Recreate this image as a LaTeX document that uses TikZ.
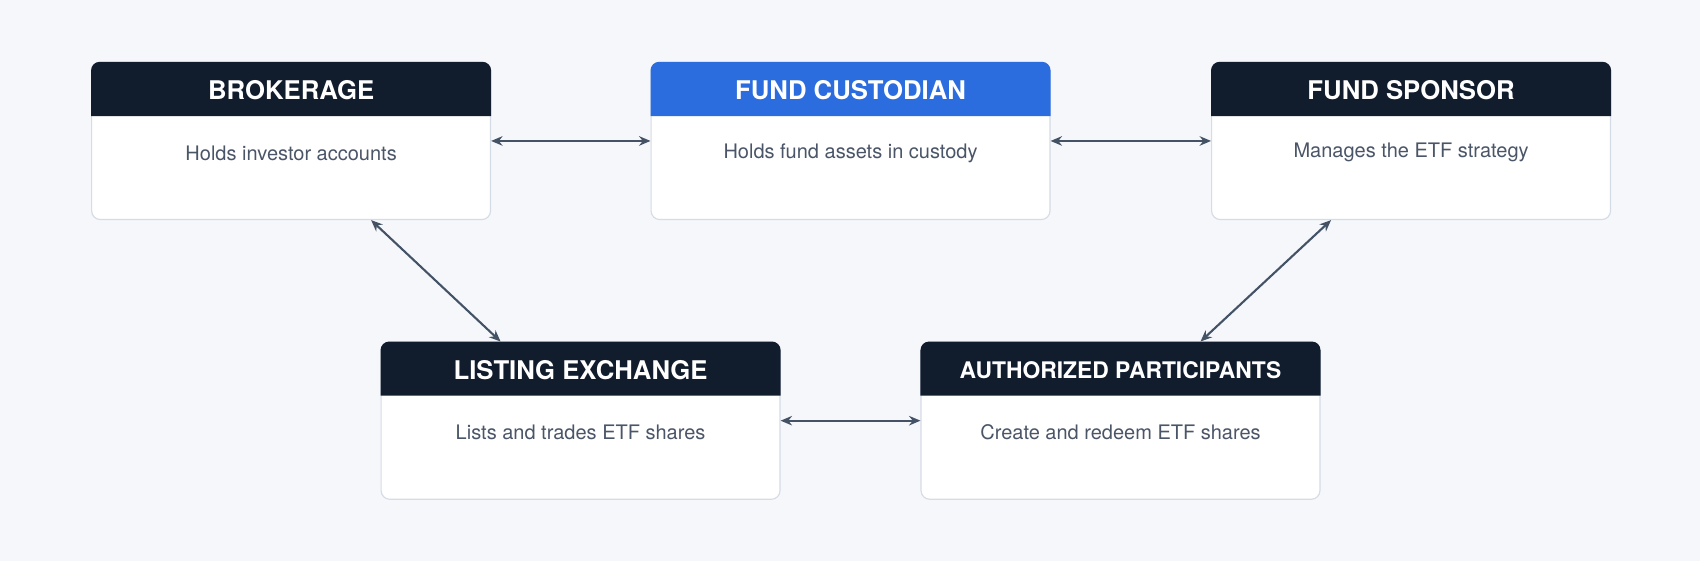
\documentclass[tikz,border=0pt]{standalone}
\usepackage{fontspec}
\setmainfont{TeX Gyre Heros}
\usetikzlibrary{arrows.meta,calc}
\definecolor{bgc}{HTML}{F5F7FB}
\definecolor{navy}{HTML}{111C2D}
\definecolor{blu}{HTML}{2B6CDE}
\definecolor{edge}{HTML}{D5DCE6}
\definecolor{slate}{HTML}{445266}
\definecolor{txt}{HTML}{4A5568}
\tikzset{
  card/.style={draw=edge, line width=0.6pt, fill=white, rounded corners=0.16cm,
    minimum width=7.36cm, minimum height=2.9cm, anchor=north west, inner sep=0pt},
  head/.style={text=white, font=\bfseries\fontsize{13.5}{16}\selectfont},
  body/.style={text=txt, font=\fontsize{10.5}{13}\selectfont},
  link/.style={draw=slate, line width=1.1pt, {Stealth[length=6pt,width=5pt]}-{Stealth[length=6pt,width=5pt]}}
}
\newcommand{\card}[6]{%
  \node[card] (#1) at (#2,#3) {};
  \fill[#6, rounded corners=0.16cm] ($(#1.north west)+(0,50)$) -- (#1.north west) -- (#1.north east) [sharp corners] -- ($(#1.north east)+(0,50)$) -- cycle;
  \node[head] (#1t) at ($(#1.north)+(0,26)$) {#4};
  \node[body] (#1d) at ($(#1.north)+(0,84)$) {#5};
}
\begin{document}
\begin{tikzpicture}[x=0.02cm,y=-0.02cm]
\fill[bgc] (0,0) rectangle (1568,517);
\useasboundingbox (0,0) rectangle (1568,517);

\card{brk}{84}{57}{BROKERAGE}{Holds investor accounts}{navy}
\card{cus}{600}{57}{FUND CUSTODIAN}{Holds fund assets in custody}{blu}
\card{spn}{1117}{57}{FUND SPONSOR}{Manages the ETF strategy}{navy}
\card{lst}{351}{315}{LISTING EXCHANGE}{Lists and trades ETF shares}{navy}
\card{aps}{849}{315}{\fontsize{12}{14}\selectfont AUTHORIZED PARTICIPANTS}{Create and redeem ETF shares}{navy}

\draw[link] (brk.east) -- (cus.west);
\draw[link] (cus.east) -- (spn.west);
\draw[link] (lst.east) -- (aps.west);
\draw[link] ($(brk.south west)!0.70!(brk.south east)$) -- ($(lst.north west)!0.30!(lst.north east)$);
\draw[link] ($(spn.south west)!0.30!(spn.south east)$) -- ($(aps.north west)!0.70!(aps.north east)$);
\end{tikzpicture}
\end{document}
